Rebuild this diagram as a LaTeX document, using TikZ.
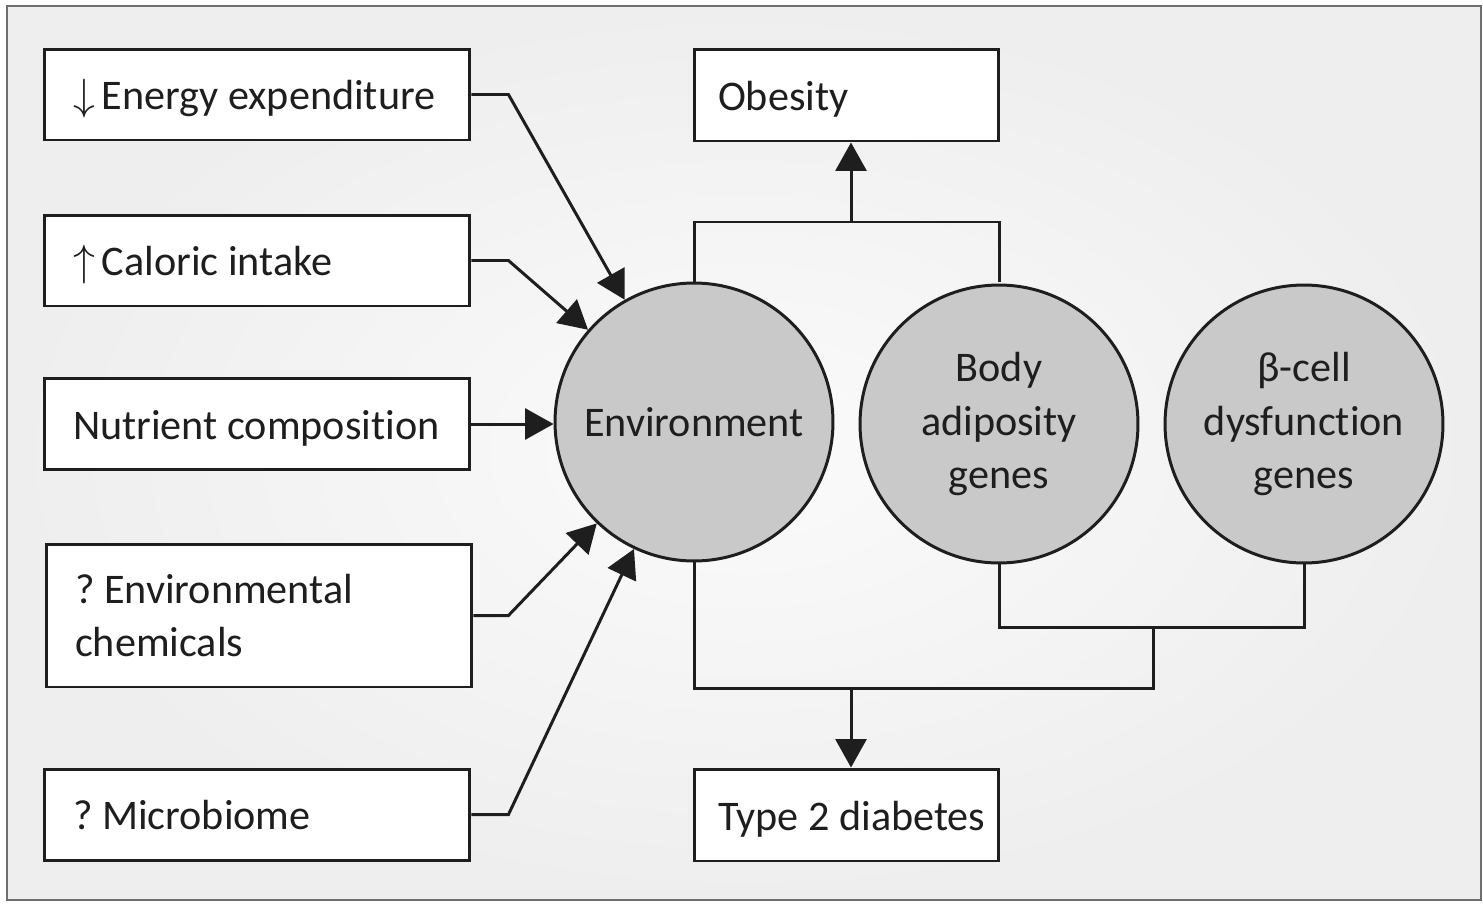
\documentclass[tikz,border=0pt]{standalone}
\usepackage{fontspec}
\setmainfont{Carlito}[Ligatures=NoCommon]
\usetikzlibrary{arrows.meta,calc}
\definecolor{ink}{HTML}{1E1E1E}
\definecolor{circfill}{HTML}{C9C9C9}
\definecolor{framecol}{HTML}{6E6E6E}
\definecolor{bgout}{HTML}{EEEEEE}
\definecolor{bgin}{HTML}{FBFBFB}
\begin{document}
\frenchspacing
\begin{tikzpicture}[x=0.02cm,y=-0.02cm,
  every node/.style={font=\fontsize{24}{30.5}\selectfont, text=ink},
  leftbox/.style={draw=ink, line width=1.7pt, fill=white, minimum width=8.52cm, minimum height=1.82cm,
     text width=7.36cm, inner xsep=0.58cm, align=flush left},
  oneline/.style={text height=0.6cm, text depth=0cm},
  outbox/.style={draw=ink, line width=1.7pt, fill=white, minimum width=6.1cm, minimum height=1.84cm,
     text width=5.8cm, inner xsep=0.15cm, align=flush left, text height=0.6cm, text depth=0cm},
  circ/.style={circle, draw=ink, line width=1.7pt, fill=circfill, minimum size=5.56cm, inner sep=0pt, align=center},
  conn/.style={draw=ink, line width=1.7pt},
  arr/.style={conn, -{Triangle[length=0.57cm,width=0.62cm]}}
]
\useasboundingbox (0,0) rectangle (1483,903);
\shade[inner color=bgin, outer color=bgout] (7,6) rectangle (1481,900);
\draw[framecol, line width=1.2pt] (7,6) rectangle (1481,900);

% left boxes
\node[leftbox, oneline] (b1) at (257,94.5) {$\downarrow$\,Energy expenditure};
\node[leftbox, oneline] (b2) at (257,260.5) {$\uparrow$\,Caloric intake};
\node[leftbox, oneline] (b3) at (257,424) {Nutrient composition};
\node[leftbox, minimum height=2.86cm] (b4) at (259,615.5) {? Environmental\\chemicals};
\node[leftbox, oneline] (b5) at (257,814.5) {? Microbiome};

% circles
\node[circ] (env) at (694,422) {Environment};
\node[circ] (body) at (999,424) {Body\\adiposity\\genes};
\node[circ] (beta) at (1304,424) {β-cell\\dysfunction\\genes};

% outcome boxes
\node[outbox] (ob) at (846.5,95) {\hspace*{0.33cm}\mbox{Obesity}};
\node[outbox] (t2d) at (846.5,815) {\hspace*{0.33cm}\mbox{Type 2 diabetes}};

% junction points
\coordinate (tj) at (851,222);
\coordinate (bj) at (1153,627);
\coordinate (bk) at (851,688);

% inputs to environment
\draw[arr] (b1.east) -- ++(37,0) -- (env);
\draw[arr] (b2.east) -- ++(37,0) -- (env);
\draw[arr] (b3.east) -- (b3.east -| env.west);
\draw[arr] (b4.east) -- ++(35,0) -- (env);
\draw[arr] (b5.east) -- ++(37,0) -- (env);

% to obesity
\draw[conn] (env.north) |- (tj) -| ($(body.north)+(0,-2)$);
\draw[arr] (tj) -- (tj |- ob.south);

% to type 2 diabetes
\draw[conn] ($(body.south)+(0,-2)$) |- (bj) -| ($(beta.south)+(0,-2)$);
\draw[conn] (env.south) |- (bk) -| (bj);
\draw[arr] (bk) -- (bk |- t2d.north);
\end{tikzpicture}
\end{document}
